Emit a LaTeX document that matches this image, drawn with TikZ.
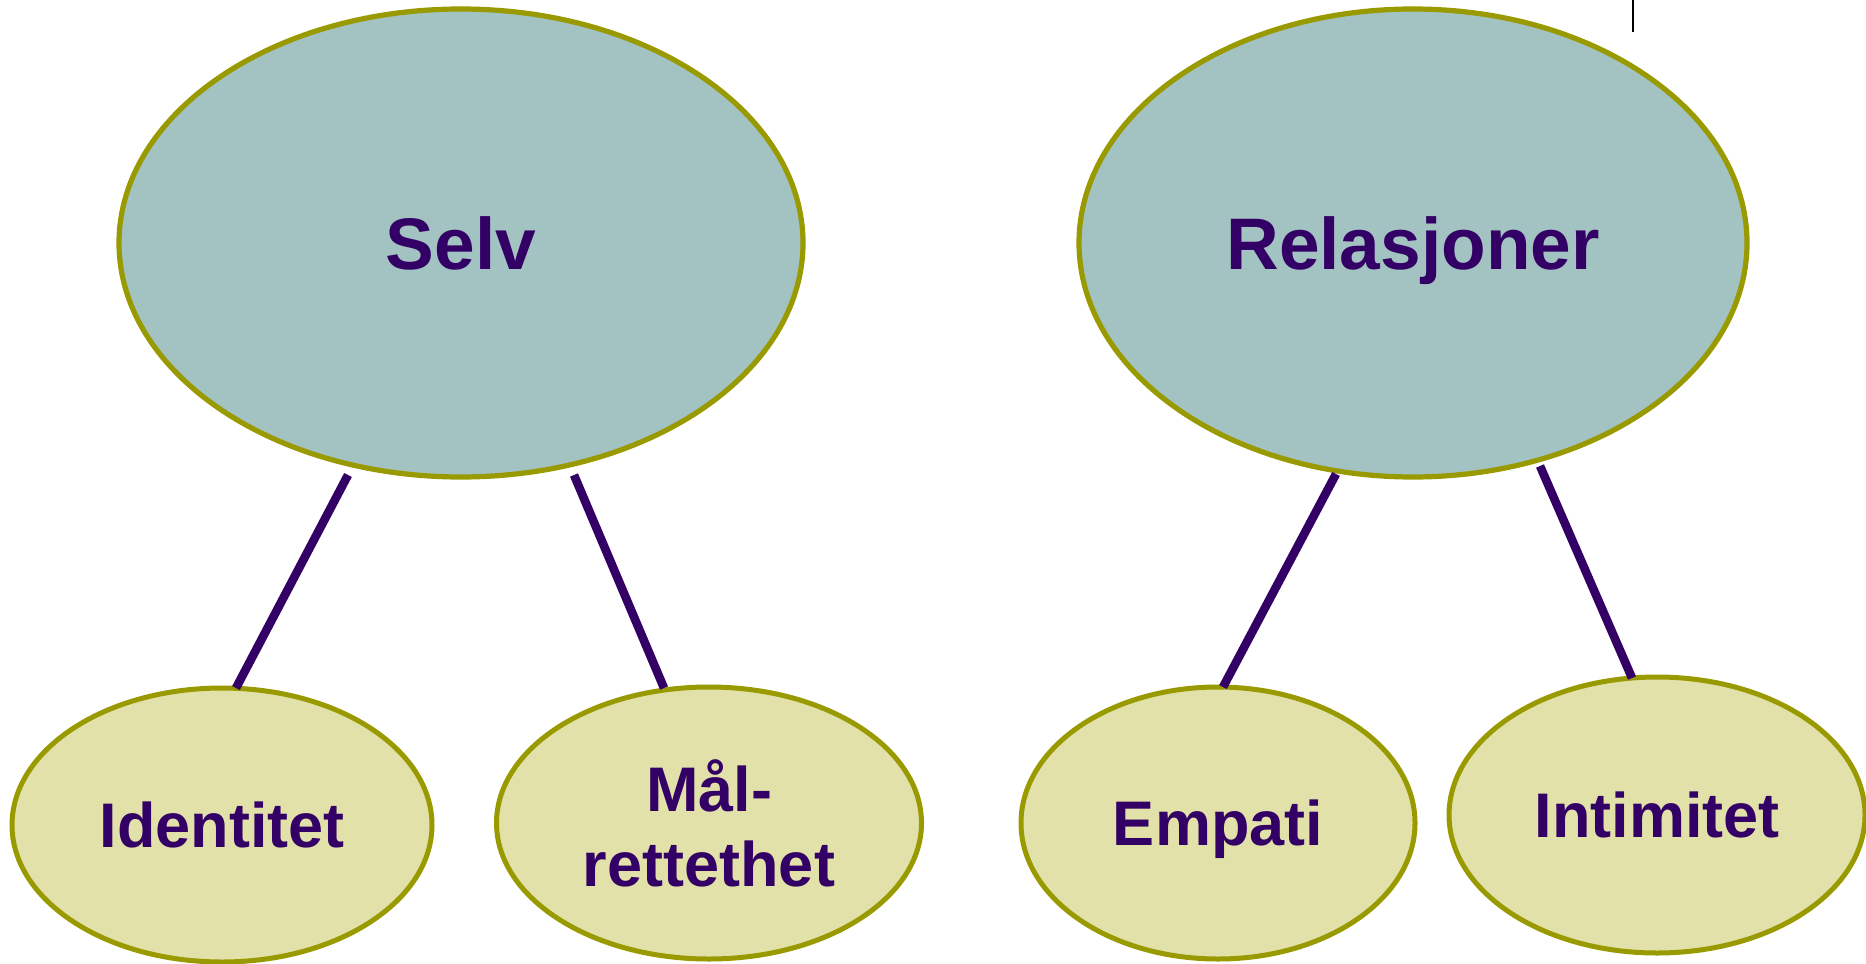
\documentclass[tikz,border=0pt]{standalone}
\usepackage{fontspec}
\setmainfont{Liberation Sans}
\usetikzlibrary{shapes.geometric,calc}
\definecolor{topfill}{HTML}{A3C2C2}
\definecolor{subfill}{HTML}{E2E1AA}
\definecolor{olive}{HTML}{999900}
\definecolor{ink}{HTML}{330066}
\tikzset{
  bigell/.style={ellipse, draw=olive, line width=2.6pt, fill=topfill, inner sep=0pt,
    text=ink, font=\bfseries\fontsize{36.5}{44}\selectfont, text height=26.1pt, text depth=0pt},
  smallell/.style={ellipse, draw=olive, line width=2.5pt, fill=subfill, inner sep=0pt,
    text=ink, font=\bfseries\fontsize{31.5}{37.5}\selectfont, align=center},
  oneline/.style={text height=22.6pt, text depth=0pt},
  link/.style={draw=ink, line width=4.3pt}
}
\begin{document}
\begin{tikzpicture}[x=0.5pt,y=-0.5pt]
\useasboundingbox (0,0) rectangle (1866,963);
\node[bigell, minimum width=342pt, minimum height=234pt] (selv) at (461,243) {Selv};
\node[bigell, minimum width=334pt, minimum height=234pt] (rel) at (1413,243) {Relasjoner};
\node[smallell, oneline, minimum width=210pt, minimum height=137pt] (ident) at (222,825) {Identitet};
\node[smallell, minimum width=212.5pt, minimum height=136pt] (mal) at (709,823) {Mål-\\rettethet};
\node[smallell, oneline, minimum width=197pt, minimum height=136pt] (emp) at (1218,823) {Empati};
\node[smallell, oneline, minimum width=208pt, minimum height=138pt] (intim) at (1657,815) {Intimitet};
\draw[link] ($(selv.center)+(-113,232)$) -- ($(ident.center)+(14,-137)$);
\draw[link] ($(selv.center)+(113,232)$) -- ($(mal.center)+(-45,-135)$);
\draw[link] ($(rel.center)+(-77,231)$) -- ($(emp.center)+(5,-136)$);
\draw[link] ($(rel.center)+(127,223)$) -- ($(intim.center)+(-25,-137)$);
\coordinate (m1) at (1633,0);
\coordinate (m2) at (1633,32);
\draw[black, line width=1pt] (m1) -- (m2);
\end{tikzpicture}
\end{document}
